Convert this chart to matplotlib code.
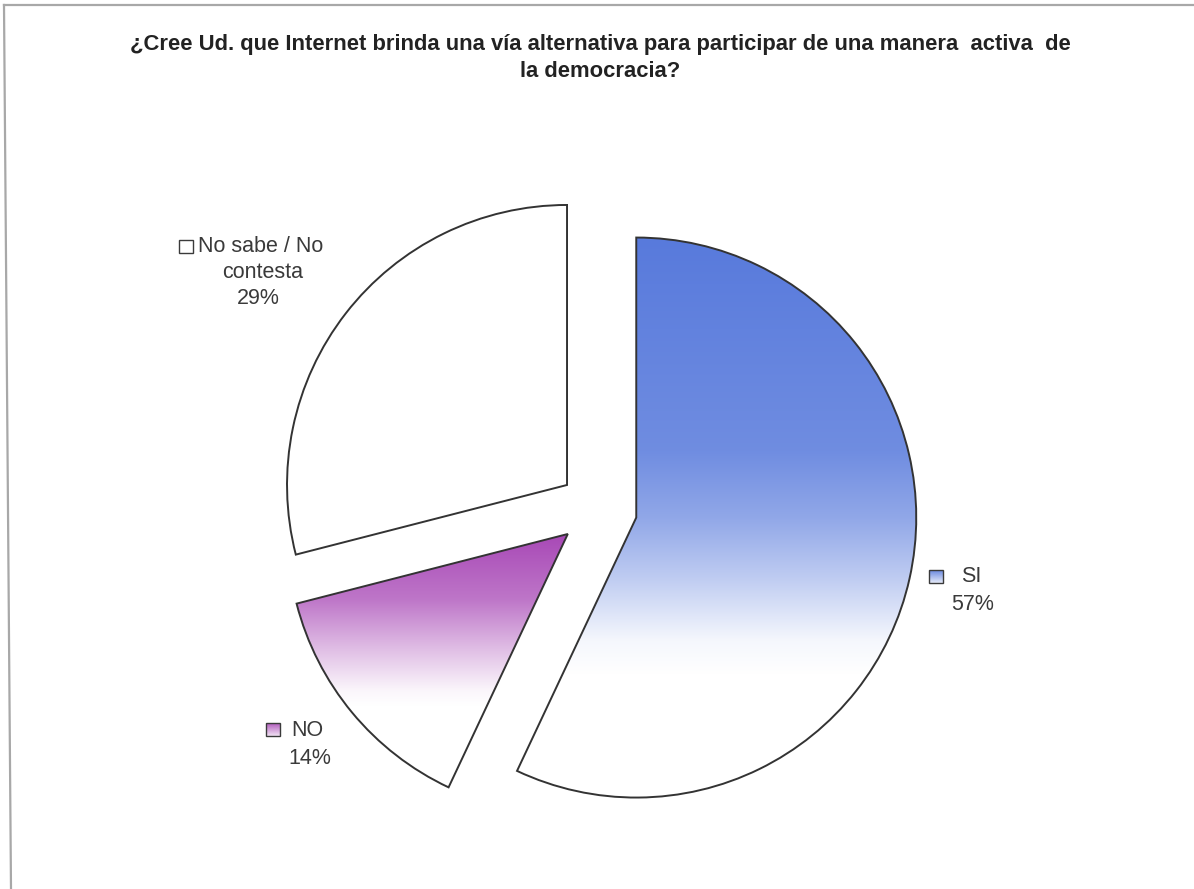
import numpy as np
import matplotlib
matplotlib.use("Agg")
import matplotlib.pyplot as plt
from matplotlib.patches import Rectangle

plt.rcParams['font.family'] = ['Liberation Sans', 'DejaVu Sans']

# data
labels = ['SI', 'NO', 'No sabe / No contesta']
values = [57, 14, 29]
top_colors = [(88, 122, 220), (168, 72, 182), (255, 255, 255)]
title = ('¿Cree Ud. que Internet brinda una vía alternativa para participar de una manera  activa  de\n'
         'la democracia?')


def make_grad(rgb, stops):
    # vertical gradient, top -> bottom, rgb fades to white
    t = np.linspace(0, 1, 256)
    pos = [s[0] for s in stops]
    mix = [s[1] for s in stops]
    m = np.interp(t, pos, mix)
    c = np.array(rgb) / 255.0
    g = m[:, None] * c[None, :] + (1 - m[:, None]) * 1.0
    return g[:, None, :]


grad_stops = [
    [(0, 1.0), (0.38, 0.86), (0.5, 0.66), (0.61, 0.38), (0.72, 0.06), (0.78, 0.0), (1, 0.0)],
    [(0, 1.0), (0.26, 0.75), (0.46, 0.35), (0.62, 0.05), (0.68, 0.0), (1, 0.0)],
    [(0, 0.0), (1, 0.0)],
]

W, H = 1194, 889
fig = plt.figure(figsize=(W / 100, H / 100), dpi=100)
ax = fig.add_axes([0, 0, 1, 1])
ax.set_axis_off()

cx, cy, r = 598, H - 509, 280
# matplotlib explode is in data units, so scale by radius
explode = [0.14 * r] * 3

wedges, _ = ax.pie(values, explode=explode, startangle=90, counterclock=False,
                   center=(cx, cy), radius=r, colors=['white'] * 3,
                   wedgeprops=dict(linewidth=0))

for w, col, st in zip(wedges, top_colors, grad_stops):
    x0, y0, x1, y1 = w.get_path().get_extents().extents
    im = ax.imshow(make_grad(col, st), extent=[x0, x1, y0, y1], origin='upper',
                   aspect='auto', zorder=2, interpolation='bilinear')
    im.set_clip_path(w)

ax.pie(values, explode=explode, startangle=90, counterclock=False,
       center=(cx, cy), radius=r,
       wedgeprops=dict(fill=False, edgecolor='#333333', linewidth=1.4, zorder=3))

# title
fig.text(0.503, 1 - 58 / H, title, ha='center', va='center', fontsize=15.8,
         fontweight='bold', color='#222222', linespacing=1.35)

# labels with small legend keys
txt = dict(fontsize=15.5, color='#3a3a3a', va='center')


def key(x, y_img, col):
    x0, y0 = x, H - y_img - 7
    ax.add_patch(Rectangle((x0, y0), 14, 13, facecolor='none', edgecolor='#3a3a3a',
                           linewidth=1.0, zorder=5))
    st = [(0, 0.9), (1, 0.15)] if col != (255, 255, 255) else [(0, 0), (1, 0)]
    ax.imshow(make_grad(col, st), extent=[x0, x0 + 14, y0, y0 + 13],
              origin='upper', aspect='auto', zorder=4)


key(929, 576, top_colors[0])
ax.text(961, H - 577, labels[0], ha='left', **txt)
ax.text(973, H - 605, f'{values[0]}%', ha='center', **txt)

key(266, 729, top_colors[1])
ax.text(291, H - 730, labels[1], ha='left', **txt)
ax.text(310, H - 758, f'{values[1]}%', ha='center', **txt)

key(179, 246, top_colors[2])
ax.text(198, H - 247, 'No sabe / No', ha='left', **txt)
ax.text(263, H - 273, 'contesta', ha='center', **txt)
ax.text(258, H - 299, f'{values[2]}%', ha='center', **txt)

# scanned page frame
ax.plot([4, W], [H - 5, H - 5], color='#a8a8a8', linewidth=1.6, zorder=1)
ax.plot([4, 11], [H - 5, 0], color='#a8a8a8', linewidth=1.6, zorder=1)

ax.set_xlim(0, W)
ax.set_ylim(0, H)
ax.set_aspect('auto')

fig.savefig('out.png', dpi=100)
